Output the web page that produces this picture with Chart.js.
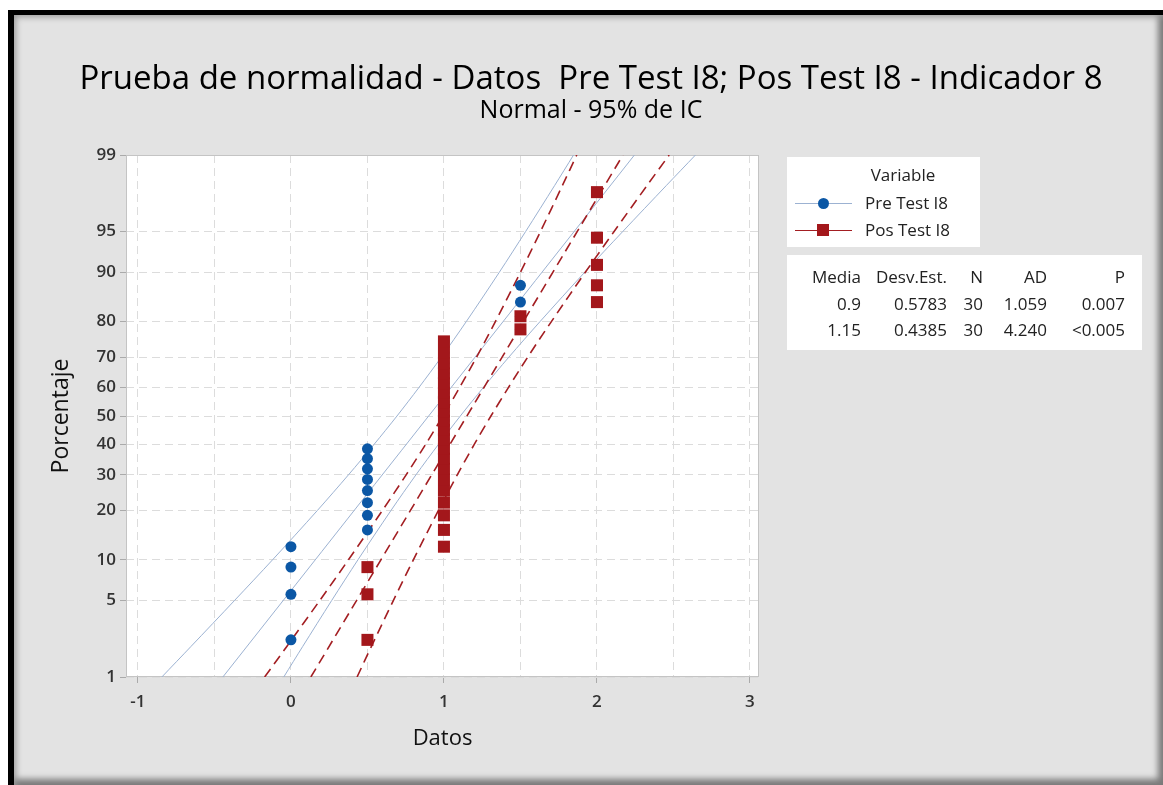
<!DOCTYPE html>
<html>
<head>
<meta charset="utf-8">
<script src="https://cdn.jsdelivr.net/npm/chart.js@4.4.1/dist/chart.umd.min.js"></script>
<style>
  body { margin: 0; background: #fff; font-family: "Open Sans", sans-serif; }
  #frame {
    position: absolute; left: 8px; top: 10px; width: 1155px; height: 775px;
    box-sizing: border-box; border-left: 6px solid #000; border-top: 5px solid #000;
    background: #e3e3e3;
    box-shadow: inset 5px 5px 6px -3px #9a9a9a, inset -9px -10px 6px -4px #7a7a7a;
  }
  #chart { position: absolute; left: 0; top: 0; }
  .title { position: absolute; left: 0; width: 1182px; text-align: center; color: #000; white-space: nowrap; }
  #t1 { top: 54px; font-size: 33px; line-height: 46px; }
  #t2 { top: 91px; font-size: 25px; line-height: 34px; }
  #legend {
    position: absolute; left: 787px; top: 157px; width: 193px; height: 90px;
    background: #fff; font-size: 17px; color: #222;
  }
  #legend .head { position: absolute; left: 0; width: 232px; text-align: center; top: 6px; }
  #legend .row { position: absolute; left: 8px; height: 20px; line-height: 20px; }
  #legend .sym { position: absolute; left: 0; top: 0; width: 57px; height: 20px; }
  #legend .sym i { position: absolute; left: 0; right: 0; top: 10px; height: 1px; }
  #legend .sym b { position: absolute; }
  #legend .lab { position: absolute; left: 70px; white-space: nowrap; }
  #stats {
    position: absolute; left: 787px; top: 255px; width: 355px; height: 95px;
    background: #fff; font-size: 17px; color: #222;
  }
  #stats table { position: absolute; left: 0; top: 9px; border-collapse: collapse; }
  #stats td { padding: 0; text-align: right; height: 26.5px; line-height: 26.5px; white-space: nowrap; }
</style>
</head>
<body>
<div id="frame"></div>
<canvas id="chart" width="1163" height="785"></canvas>
<div class="title" id="t1"></div>
<div class="title" id="t2"></div>
<div id="legend"></div>
<div id="stats"></div>
<script>
// texts
const titleText = "Prueba de normalidad - Datos\u00a0 Pre Test I8; Pos Test I8 - Indicador 8";
const subtitleText = "Normal - 95% de IC";
const seriesNames = ["Pre Test I8", "Pos Test I8"];
const statHeaders = ["Media", "Desv.Est.", "N", "AD", "P"];
const statPre = ["0.9", "0.5783", "30", "1.059", "0.007"];
const statPos = ["1.15", "0.4385", "30", "4.240", "<0.005"];

// axis ticks
const xTicks = [-1, -0.5, 0, 0.5, 1, 1.5, 2, 2.5, 3];
const yTickPct = [1, 5, 10, 20, 30, 40, 50, 60, 70, 80, 90, 95, 99];

// observed points (Datos, Porcentaje)
const preX = [0, 0, 0, 0, 0.5, 0.5, 0.5, 0.5, 0.5, 0.5, 0.5, 0.5,
  1, 1, 1, 1, 1, 1, 1, 1, 1, 1, 1, 1.5, 1.5, 1.5, 1.5, 2, 2, 2];
const posX = [0.5, 0.5, 0.5, 1, 1, 1, 1, 1, 1, 1, 1, 1, 1, 1, 1, 1, 1, 1, 1, 1, 1, 1, 1,
  1.5, 1.5, 2, 2, 2, 2, 2];
const pointPct = [2.3, 5.6, 8.9, 12.2, 15.5, 18.8, 22.0, 25.3, 28.6, 31.9, 35.2, 38.5,
  41.8, 45.1, 48.4, 51.6, 54.9, 58.2, 61.5, 64.8, 68.1, 71.4, 74.7,
  78.0, 81.3, 84.5, 87.8, 91.1, 94.4, 97.7];

// fitted lines and 95% bands
const fitPct = [1, 99];
const preFit = [-0.445, 2.245];
const posFit = [0.130, 2.170];
const bandPct = [1, 2, 5, 10, 20, 30, 40, 50, 60, 70, 80, 90, 95, 98, 99];
const preLow = [-0.844, -0.653, -0.369, -0.120, 0.173, 0.376, 0.543, 0.693, 0.836, 0.983, 1.146, 1.362, 1.534, 1.723, 1.847];
const preHigh = [-0.047, 0.077, 0.266, 0.438, 0.654, 0.817, 0.964, 1.107, 1.257, 1.424, 1.628, 1.920, 2.169, 2.453, 2.644];
const posLow = [-0.172, -0.027, 0.188, 0.376, 0.598, 0.753, 0.880, 0.993, 1.102, 1.213, 1.336, 1.500, 1.631, 1.774, 1.868];
const posHigh = [0.432, 0.526, 0.669, 0.800, 0.964, 1.087, 1.198, 1.307, 1.421, 1.547, 1.702, 1.924, 2.112, 2.327, 2.472];

const blue = "#0b57a5";
const red = "#a3171b";
const blueLine = "#9cb2d2";
const redLine = "#a31e22";

// normal quantile for the probability axis (Acklam)
function probit(p) {
  const a = [-39.69683028665376, 220.9460984245205, -275.9285104469687, 138.3577518672690, -30.66479806614716, 2.506628277459239];
  const b = [-54.47609879822406, 161.5858368580409, -155.6989798598866, 66.80131188771972, -13.28068155288572];
  const c = [-0.007784894002430293, -0.3223964580411365, -2.400758277161838, -2.549732539343734, 4.374664141464968, 2.938163982698783];
  const d = [0.007784695709041462, 0.3224671290700398, 2.445134137142996, 3.754408661907416];
  const pl = 0.02425;
  let q, r;
  if (p < pl) {
    q = Math.sqrt(-2 * Math.log(p));
    return (((((c[0]*q+c[1])*q+c[2])*q+c[3])*q+c[4])*q+c[5]) / ((((d[0]*q+d[1])*q+d[2])*q+d[3])*q+1);
  }
  if (p > 1 - pl) {
    q = Math.sqrt(-2 * Math.log(1 - p));
    return -(((((c[0]*q+c[1])*q+c[2])*q+c[3])*q+c[4])*q+c[5]) / ((((d[0]*q+d[1])*q+d[2])*q+d[3])*q+1);
  }
  q = p - 0.5; r = q * q;
  return (((((a[0]*r+a[1])*r+a[2])*r+a[3])*r+a[4])*r+a[5])*q / (((((b[0]*r+b[1])*r+b[2])*r+b[3])*r+b[4])*r+1);
}

const toPts = (xs, pcts) => xs.map((x, i) => ({ x: x, y: probit(pcts[i] / 100) }));

function lineSet(xs, pcts, color, dash, order) {
  return {
    data: toPts(xs, pcts), showLine: true, pointRadius: 0, borderColor: color,
    borderWidth: dash.length ? 1.6 : 1, borderDash: dash, tension: 0.3, order: order
  };
}

const plotFrame = {
  id: "plotFrame",
  beforeDatasetsDraw(chart) {
    const a = chart.chartArea, ctx = chart.ctx;
    ctx.save();
    ctx.strokeStyle = "#c4c4c4";
    ctx.lineWidth = 1;
    ctx.strokeRect(a.left + 0.5, a.top + 0.5, a.width - 1, a.height - 1);
    ctx.restore();
  },
  beforeDraw(chart) {
    const a = chart.chartArea, ctx = chart.ctx;
    ctx.save();
    ctx.fillStyle = "#fff";
    ctx.fillRect(a.left, a.top, a.width, a.height);
    ctx.restore();
  }
};

const tickFont = { family: "Open Sans", size: 17, weight: "600" };
const gridStyle = { color: "#dcdcdc", tickLength: 6, tickBorderDash: [] };
const borderStyle = { display: false, dash: [8, 5] };

new Chart(document.getElementById("chart"), {
  type: "scatter",
  data: {
    datasets: [
      { data: toPts(posX, pointPct), pointStyle: "rect", pointRadius: 8.5, pointHoverRadius: 8.5,
        backgroundColor: red, borderColor: red, borderWidth: 0, order: 0 },
      { data: toPts(preX, pointPct), pointStyle: "circle", pointRadius: 5.5, pointHoverRadius: 5.5,
        backgroundColor: blue, borderColor: blue, borderWidth: 0, order: 1 },
      lineSet(posFit, fitPct, redLine, [10, 6], 2),
      lineSet(posLow, bandPct, redLine, [10, 6], 2),
      lineSet(posHigh, bandPct, redLine, [10, 6], 2),
      lineSet(preFit, fitPct, blueLine, [], 3),
      lineSet(preLow, bandPct, blueLine, [], 3),
      lineSet(preHigh, bandPct, blueLine, [], 3)
    ]
  },
  options: {
    responsive: false,
    animation: false,
    devicePixelRatio: 1,
    layout: { padding: { left: 40, right: 404, top: 155, bottom: 30 } },
    plugins: { legend: { display: false }, tooltip: { enabled: false } },
    scales: {
      x: {
        type: "linear", min: -1.078, max: 3.059,
        afterBuildTicks: s => { s.ticks = xTicks.map(v => ({ value: v })); },
        afterFit: s => { s.height = 78; },
        ticks: {
          font: tickFont, color: "#333", padding: 9, maxRotation: 0,
          callback: v => Number.isInteger(v) ? String(v) : ""
        },
        grid: Object.assign({}, gridStyle, {
          tickColor: c => Number.isInteger(c.tick.value) ? "#aaa" : "rgba(0,0,0,0)"
        }),
        border: borderStyle,
        title: { display: true, text: "Datos", color: "#111", font: { family: "Open Sans", size: 22 }, padding: { top: 0, bottom: 3 } }
      },
      y: {
        type: "linear", min: probit(0.01), max: probit(0.99),
        afterBuildTicks: s => { s.ticks = yTickPct.map(p => ({ value: probit(p / 100) })); },
        afterFit: s => { s.width = 86; },
        ticks: {
          font: tickFont, color: "#333", padding: 4,
          callback: (v, i) => String(yTickPct[i])
        },
        grid: Object.assign({}, gridStyle, { tickColor: "#aaa" }),
        border: borderStyle,
        title: { display: true, text: "Porcentaje", color: "#111", font: { family: "Open Sans", size: 23 }, padding: { top: 8, bottom: 0 } }
      }
    }
  },
  plugins: [plotFrame]
});

// titles
document.getElementById("t1").textContent = titleText;
document.getElementById("t2").textContent = subtitleText;

// legend box
const legend = document.getElementById("legend");
let html = '<div class="head">Variable</div>';
const symbols = [
  { line: blueLine, mark: `background:${blue};border-radius:50%;width:11px;height:11px;left:23px;top:5px;` },
  { line: redLine, mark: `background:${red};width:12px;height:12px;left:22px;top:4px;` }
];
seriesNames.forEach((name, i) => {
  html += `<div class="row" style="top:${36 + i * 27}px;width:180px">` +
    `<span class="sym"><i style="background:${symbols[i].line}"></i><b style="${symbols[i].mark}"></b></span>` +
    `<span class="lab">${name}</span></div>`;
});
legend.innerHTML = html;

// statistics table
const colWidths = [74, 86, 36, 64, 78];
const rowsHtml = [statHeaders, statPre, statPos].map(r =>
  "<tr>" + r.map((t, i) => `<td style="width:${colWidths[i]}px">${t.replace("<", "&lt;")}</td>`).join("") + "</tr>"
).join("");
document.getElementById("stats").innerHTML = `<table>${rowsHtml}</table>`;
</script>
</body>
</html>
